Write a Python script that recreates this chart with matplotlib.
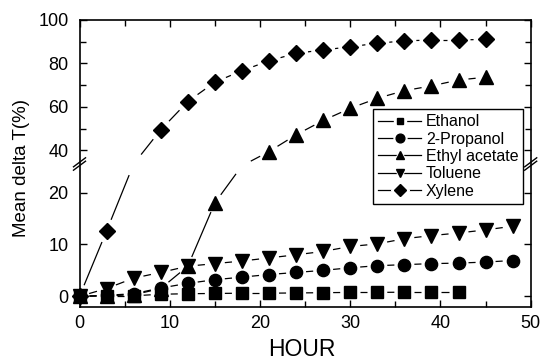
import numpy as np
import matplotlib
matplotlib.use('Agg')
import matplotlib.pyplot as plt
from matplotlib.lines import Line2D
from matplotlib.ticker import FixedLocator

plt.rcParams['font.family'] = ['Liberation Sans', 'DejaVu Sans']

# data
hours = [0, 3, 6, 9, 12, 15, 18, 21, 24, 27, 30, 33, 36, 39, 42, 45, 48]
ethanol = [0, 0.1, 0.1, 0.4, 0.5, 0.55, 0.6, 0.6, 0.65, 0.7, 0.75, 0.75, 0.8, 0.8, 0.8]
propanol = [0, 0.2, 0.5, 1.6, 2.5, 3.2, 3.7, 4.2, 4.6, 5.0, 5.5, 5.9, 6.1, 6.3, 6.4, 6.6, 6.9]
ethyl_acetate = [0, 0.1, 0.3, 1.5, 5.8, 18.0, 26.5, 39.5, 47.2, 53.8, 59.4, 64.0, 67.5, 69.7, 72.4, 73.7]
toluene = [0, 1.5, 3.5, 4.6, 5.8, 6.3, 6.8, 7.4, 8.0, 8.65, 9.6, 10.1, 11.1, 11.7, 12.2, 12.8, 13.5]
xylene = [0, 12.6, 30, 49.5, 62.5, 71.4, 76.7, 81.2, 84.7, 86.2, 87.7, 89.3, 90.4, 90.8, 90.8, 91.1]

names = ['Ethanol', '2-Propanol', 'Ethyl acetate', 'Toluene', 'Xylene']
series = [ethanol, propanol, ethyl_acetate, toluene, xylene]
markers = ['s', 'o', '^', 'v', 'D']
msizes = [8.4, 8.8, 9.5, 9.5, 8.6]
gaps = [10, 10, 10, 10, 12]          # px cut from the line around each point
leg_sizes = [5.0, 6.3, 6.0, 6.0, 6.6]

# broken y axis: 25..35 squeezed to almost nothing, upper part compressed
lo, hi, g, k = 25.0, 35.0, 1.0, 0.419

def fwd(y):
    y = np.asarray(y, float)
    return np.where(y <= lo, y, np.where(y >= hi, lo + g + (y - hi) * k,
                                         lo + (y - lo) * g / (hi - lo)))

def inv(f):
    f = np.asarray(f, float)
    return np.where(f <= lo, f, np.where(f >= lo + g, hi + (f - lo - g) / k,
                                         lo + (f - lo) * (hi - lo) / g))

W, H = 544, 359
fig = plt.figure(figsize=(W / 100, H / 100), dpi=100)
ax = fig.add_axes([79.5 / W, 1 - 306.7 / H, 451.2 / W, 286.7 / H])
ax.set_yscale('function', functions=(fwd, inv))
ax.set_xlim(0, 50)
ax.set_ylim(-2, 100)

ax.yaxis.set_major_locator(FixedLocator([0, 10, 20, 40, 60, 80, 100]))
ax.yaxis.set_minor_locator(FixedLocator([50, 70, 90]))
ax.xaxis.set_major_locator(FixedLocator([0, 10, 20, 30, 40, 50]))
ax.xaxis.set_minor_locator(FixedLocator([5, 15, 25, 35, 45]))
ax.tick_params(which='both', direction='in', top=True, right=True, width=1.0,
               labelsize=13)
ax.tick_params(which='major', length=5)
ax.tick_params(which='minor', length=4)
ax.tick_params(axis='y', pad=8)
ax.tick_params(axis='x', pad=6)
for sp in ax.spines.values():
    sp.set_linewidth(1.2)

# lines with a small gap around every point (like the original software)
for ys, r in zip(series, gaps):
    xs = hours[:len(ys)]
    pts = ax.transData.transform(np.column_stack([xs, ys]))
    for p0, p1 in zip(pts[:-1], pts[1:]):
        d = p1 - p0
        L = np.hypot(d[0], d[1])
        if L <= 2 * r:
            continue
        u = d / L
        seg = ax.transData.inverted().transform(np.array([p0 + u * r, p1 - u * r]))
        ax.plot(seg[:, 0], seg[:, 1], color='k', lw=0.9, zorder=2,
                solid_capstyle='butt')

# markers (points that fall inside the break are not shown)
for ys, m, ms in zip(series, markers, msizes):
    xs = np.array(hours[:len(ys)])
    ys = np.array(ys)
    keep = (ys <= lo) | (ys >= hi)
    ax.plot(xs[keep], ys[keep], ls='', marker=m, ms=ms, color='k',
            zorder=3, clip_on=False)

# break marks on both vertical spines
yb = (306.7 - 164) / 286.7
dx, dy = 6 / 451.2, 4.5 / 286.7
for xb in (0, 1):
    for off in (-1.7 / 286.7, 1.7 / 286.7):
        ax.plot([xb - dx, xb + dx], [yb + off - dy, yb + off + dy],
                transform=ax.transAxes, color='k', lw=1.0, clip_on=False,
                zorder=4)

# legend with gapped handles
handles = []
for m, ms in zip(markers, leg_sizes):
    handles.append((Line2D([], [], color='k', lw=0.9),
                    Line2D([], [], ls='', marker=m, ms=ms + 3, color='white'),
                    Line2D([], [], ls='', marker=m, ms=ms, color='k')))
leg = ax.legend(handles, names, loc='upper right', bbox_to_anchor=(0.984, 0.688),
                borderaxespad=0, fontsize=11.5, handlelength=2.7,
                handletextpad=0.3, labelspacing=0.15, borderpad=0.3,
                fancybox=False, framealpha=1, edgecolor='k')
leg.get_frame().set_linewidth(1.0)
leg.set_zorder(5)

fig.text(22 / W, 1 - 168 / H, 'Mean delta T(%)', rotation=90, ha='center',
         va='center', fontsize=13.5)
fig.text(302 / W, 1 - 349 / H, 'HOUR', ha='center', va='center', fontsize=16.5)

fig.savefig('out.png', dpi=100)
